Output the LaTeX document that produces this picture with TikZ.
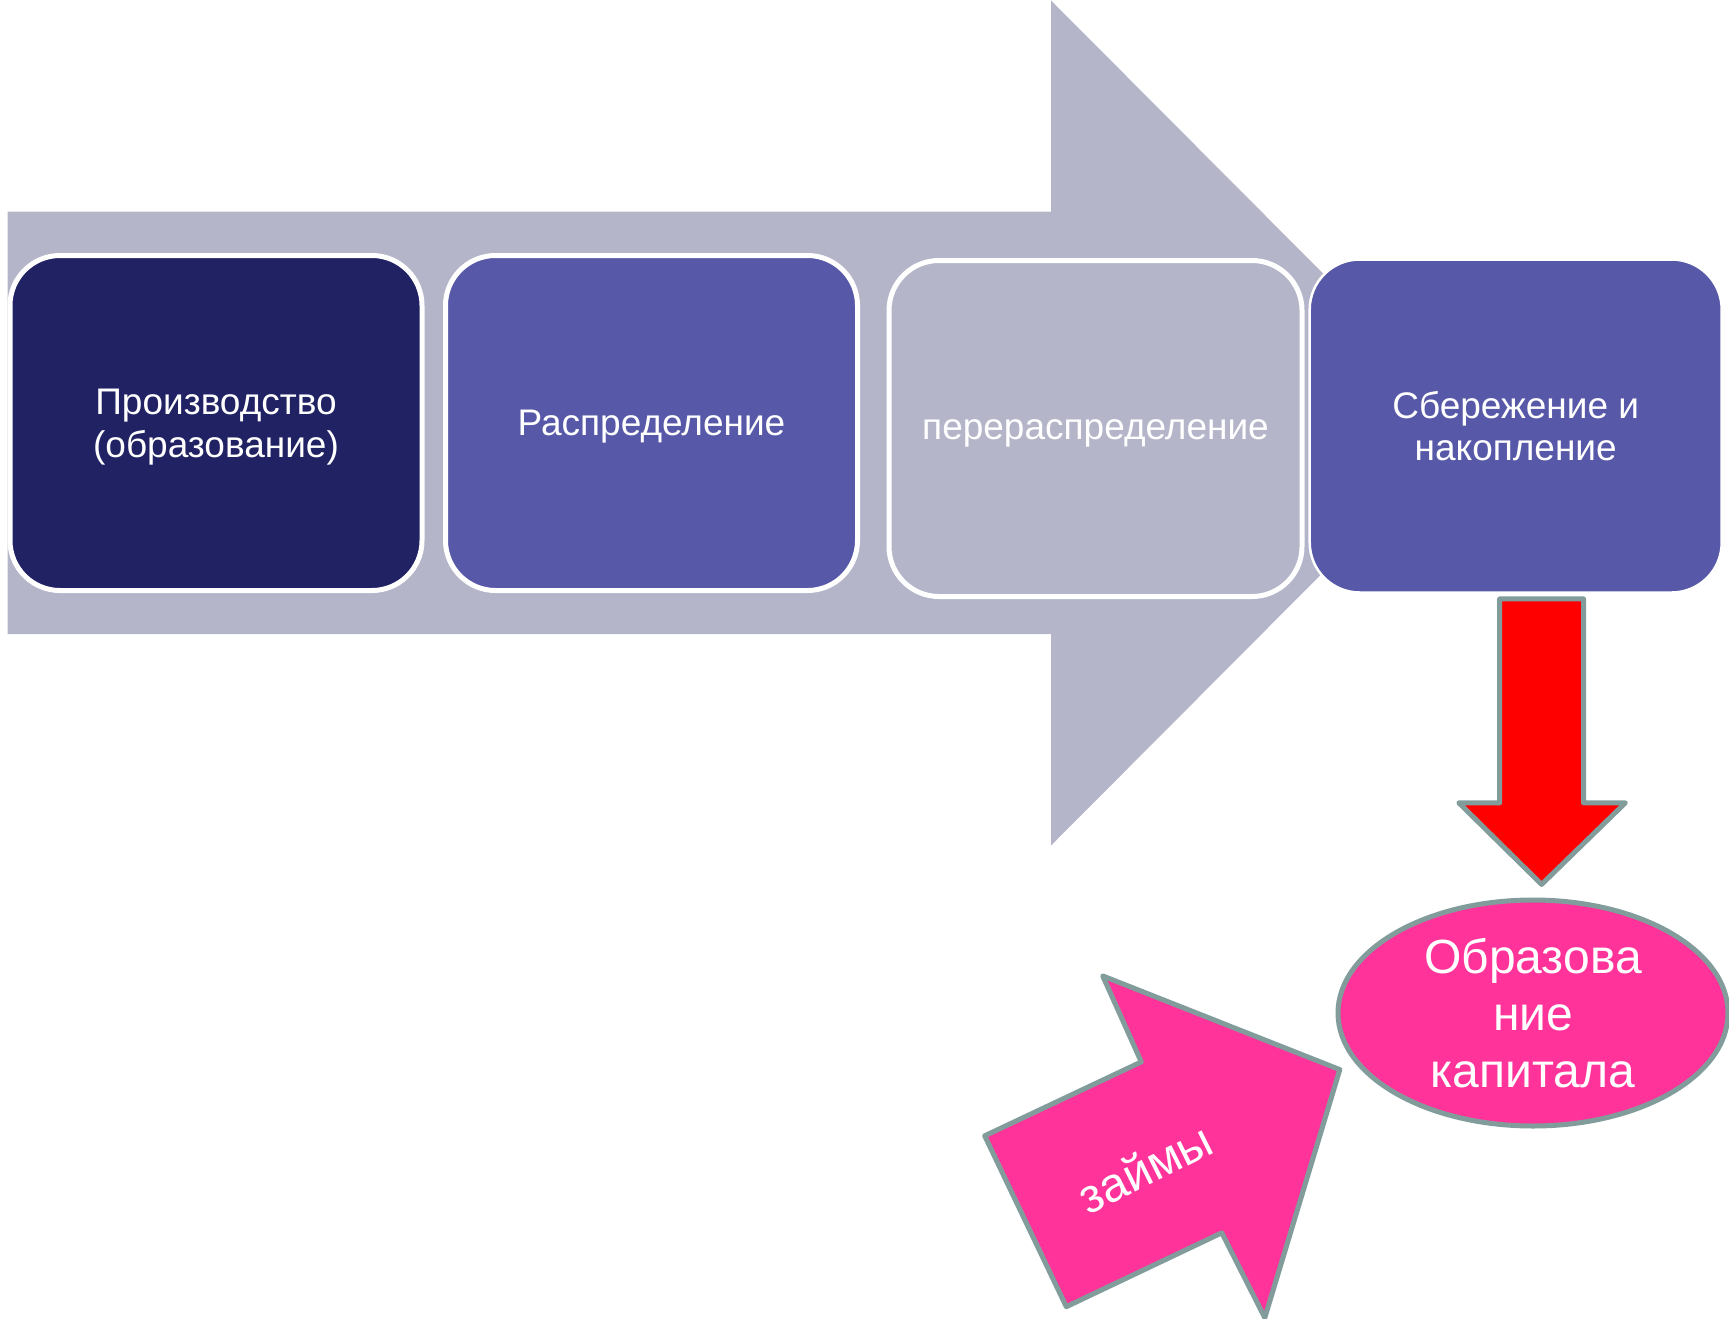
\documentclass[tikz,border=0pt]{standalone}
\usepackage{fontspec}
\setmainfont{Liberation Sans}
\usetikzlibrary{shapes.geometric}
\definecolor{flowgray}{RGB}{180,181,201}
\definecolor{navy}{RGB}{33,34,99}
\definecolor{violet}{RGB}{87,89,168}
\definecolor{hotpink}{RGB}{255,51,153}
\definecolor{edgeteal}{RGB}{130,156,156}
\tikzset{
  stagebox/.style={rectangle, rounded corners=50pt, draw=white, line width=5pt,
    minimum width=412pt, minimum height=335pt, inner sep=0pt},
  stagetext/.style={align=center, text=white, inner sep=0pt,
    font=\fontsize{37}{42.5}\selectfont},
  blockarrow/.style={draw=edgeteal, line width=5pt, line join=round},
}
\begin{document}
\begin{tikzpicture}[x=1pt,y=-1pt]
\useasboundingbox (0,0) rectangle (1729,1319);
% big background arrow
\fill[flowgray] (7.7,211.5) -- (1051,211.5) -- (1051,0.5) -- (1472,423)
  -- (1051,845.5) -- (1051,634) -- (7.7,634) -- cycle;
% stage boxes
\node[stagebox, fill=navy] (prod) at (216,423) {};
\node[stagebox, fill=violet] (distr) at (651.5,423) {};
\node[stagebox, fill=flowgray, minimum width=413pt, minimum height=336pt] (redistr) at (1095.5,428.5) {};
\node[stagebox, fill=violet, line width=2.5pt, minimum width=412pt, minimum height=333pt] (save) at (1515.7,426) {};
\node[stagetext, yshift=-4pt] (prodtext) at (prod.center) {Производство\\(образование)};
\node[stagetext, yshift=-4pt] (distrtext) at (distr.center) {Распределение};
\node[stagetext, yshift=-5pt] (redistrtext) at (redistr.center) {перераспределение};
\node[stagetext] (savetext) at (save.center) {Сбережение и\\накопление};
% red down arrow
\filldraw[blockarrow, fill=red] (1499.7,598.8) -- (1583.5,598.8) -- (1583.5,802.8)
  -- (1625.4,802.8) -- (1541.6,884.4) -- (1458.8,802.8) -- (1499.7,802.8) -- cycle;
% capital formation ellipse
\node[ellipse, draw=edgeteal, line width=5pt, fill=hotpink, minimum width=390pt,
  minimum height=226pt, inner sep=0pt, align=center, text=white,
  font=\fontsize{48}{57}\selectfont] (capital) at (1533,1013) {Образова\\ние\\капитала};
% loans arrow
\filldraw[blockarrow, fill=hotpink] (984.7,1135.8) -- (1141.3,1061.9) -- (1102.7,975.9)
  -- (1339.8,1069.6) -- (1264.8,1317.7) -- (1221.8,1232.8) -- (1066.3,1306.7) -- cycle;
\node[text=white, rotate=26.5, font=\fontsize{48}{57}\selectfont, inner sep=0pt] (loans) at (1145,1168) {займы};
\end{tikzpicture}
\end{document}
